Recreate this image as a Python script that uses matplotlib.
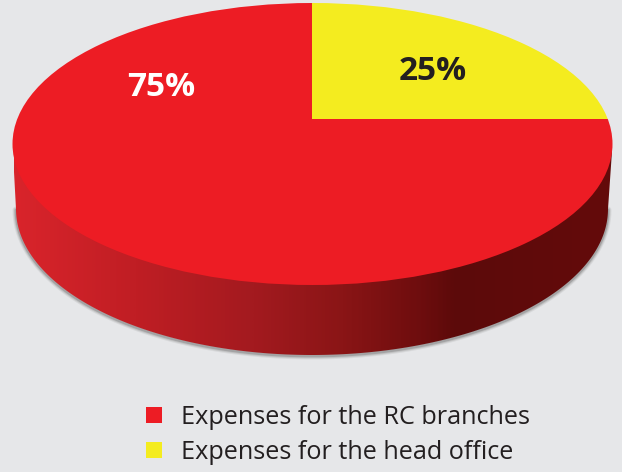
import numpy as np
import matplotlib
matplotlib.use("Agg")
import matplotlib.pyplot as plt
from matplotlib.colors import LinearSegmentedColormap
from matplotlib.patches import Ellipse, Polygon

shares = [25, 75]
labels = ["Expenses for the head office", "Expenses for the RC branches"]
pct_labels = ["25%", "75%"]
colors = ["#f4ec1f", "#ed1c24"]
label_colors = ["#231f20", "#ffffff"]

H = 472
BG = "#e6e7e9"

plt.rcParams["font.family"] = ["Open Sans", "DejaVu Sans"]

fig = plt.figure(figsize=(6.22, 4.72), dpi=100)
fig.patch.set_facecolor(BG)
ax = fig.add_axes([0, 0, 1, 1])


def arc(cx, cy, a, b, t0, t1, n=200):
    t = np.linspace(t0, t1, n)
    return np.column_stack([cx + a * np.cos(t), cy + b * np.sin(t)])


# the disc, in pixels measured from the bottom of the image
top = (312.5, H - 144, 300, 141)
bottom = (312, H - 209, 296, 146)
side_pts = np.vstack([
    arc(*top, np.pi, 2 * np.pi)[:1],
    arc(*bottom, np.pi, 2 * np.pi),
    arc(*top, 0, np.pi)[:1],
    arc(*top, 0, np.pi),
])

# soft shadow under the rim
for lw, alpha in [(5, 0.10), (3.5, 0.16), (2, 0.28)]:
    ax.plot(*arc(bottom[0], bottom[1] - 1, bottom[2], bottom[3], np.pi, 2 * np.pi).T,
            color="#555555", lw=lw, alpha=alpha, zorder=1, solid_capstyle="round")

rim_cmap = LinearSegmentedColormap.from_list("rim", [
    (0.0, "#d9242b"), (0.2, "#c01e24"), (0.4, "#a31a1f"),
    (0.55, "#8a1516"), (0.68, "#6e0d0e"), (0.74, "#5c0a0a"), (1.0, "#640b0b"),
])
grad = np.linspace(0, 1, 400).reshape(1, -1)
im = ax.imshow(grad, cmap=rim_cmap, extent=(14, 612, 110, H - 140), aspect="auto", zorder=2)
im.set_clip_path(Polygon(side_pts, transform=ax.transData))

# wedges meet at the apex, behind the ellipse centre because of the perspective
wedges, _ = ax.pie(shares, colors=colors, startangle=90, counterclock=False,
                   center=(312, H - 119), radius=800, frame=True)
disc = Ellipse(top[:2], 2 * top[2], 2 * top[3], transform=ax.transData)
for w in wedges:
    w.set_clip_on(True)
    w.set_clip_path(disc)
    w.set_zorder(3)
    w.set_linewidth(0)

ax.set_aspect("auto")
ax.set_xlim(0, 622)
ax.set_ylim(0, H)
ax.axis("off")

label_pos = [(433, H - 72), (161, H - 87)]
for txt, c, (x, y) in zip(pct_labels, label_colors, label_pos):
    ax.text(x, y, txt, color=c, fontsize=24, fontweight="bold",
            ha="center", va="center", zorder=5)

leg = ax.legend(wedges[::-1], labels[::-1], loc="upper left",
                bbox_to_anchor=(146 / 622, 1 - 405 / H), bbox_transform=fig.transFigure,
                frameon=False, fontsize=18.2, labelcolor="#231f20",
                handlelength=0.62, handleheight=0.62, handletextpad=0.75,
                labelspacing=0.38, borderpad=0, borderaxespad=0)

fig.savefig("out.png", dpi=100, facecolor=BG)
